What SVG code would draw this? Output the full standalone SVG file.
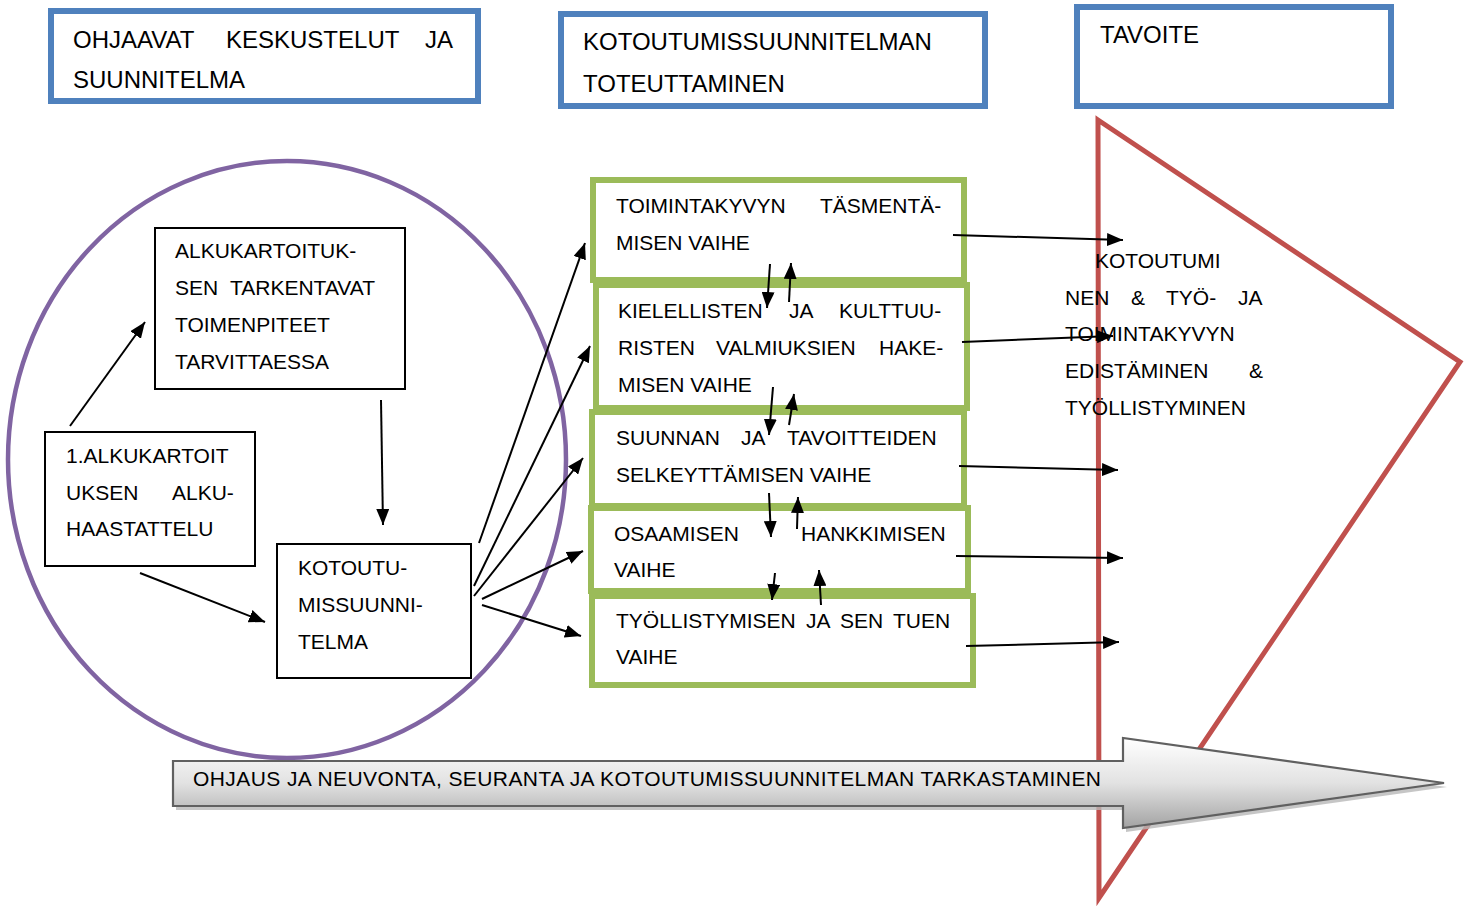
<svg xmlns="http://www.w3.org/2000/svg" width="1475" height="906" viewBox="0 0 1475 906">
  <style>
    text { font-family: "Liberation Sans", Arial, sans-serif; fill: #000; }
    .hdr { font-size: 24px; }
    .t { font-size: 21px; }
    .blue { fill: #fff; stroke: #4F81BD; stroke-width: 6; }
    .green { fill: #fff; stroke: #9BBB59; stroke-width: 6; }
    .plain { fill: #fff; stroke: #000; stroke-width: 2; }
    .con { fill: none; stroke: #000; stroke-width: 2; marker-end: url(#head); }
  </style>
  <defs>
    <marker id="head" markerUnits="userSpaceOnUse" markerWidth="16" markerHeight="13" refX="16" refY="6.5" orient="auto">
      <path d="M0,0 L16,6.5 L0,13 z" fill="#000"/>
    </marker>
    <linearGradient id="bandFill" x1="0" y1="0" x2="0" y2="1">
      <stop offset="0" stop-color="#ffffff"/>
      <stop offset="0.5" stop-color="#e2e2e2"/>
      <stop offset="1" stop-color="#a3a3a3"/>
    </linearGradient>
  </defs>

  <rect width="1475" height="906" fill="#fff"/>

  <!-- column headers -->
  <g id="hdr-ohjaavat">
    <rect class="blue" x="51" y="11" width="427" height="90"/>
    <text class="hdr" y="48"><tspan x="73">OHJAAVAT</tspan><tspan x="226">KESKUSTELUT</tspan><tspan x="425">JA</tspan></text>
    <text class="hdr" x="73" y="88">SUUNNITELMA</text>
  </g>
  <g id="hdr-toteuttaminen">
    <rect class="blue" x="561" y="14" width="424" height="92"/>
    <text class="hdr" x="583" y="49.5">KOTOUTUMISSUUNNITELMAN</text>
    <text class="hdr" x="583" y="91.5">TOTEUTTAMINEN</text>
  </g>
  <g id="hdr-tavoite">
    <rect class="blue" x="1077" y="7" width="314" height="99"/>
    <text class="hdr" x="1100" y="43">TAVOITE</text>
  </g>

  <!-- goal triangle -->
  <g id="goal">
    <polygon points="1098,120 1460,362 1099,898" fill="none" stroke="#C0504D" stroke-width="5" stroke-linejoin="miter"/>
    <text class="t" x="1095" y="268">KOTOUTUMI</text>
    <text class="t" y="305"><tspan x="1065">NEN</tspan><tspan x="1131">&amp;</tspan><tspan x="1166">TYÖ-</tspan><tspan x="1238">JA</tspan></text>
    <text class="t" x="1065" y="341">TOIMINTAKYVYN</text>
    <text class="t" y="378"><tspan x="1065">EDISTÄMINEN</tspan><tspan x="1249">&amp;</tspan></text>
    <text class="t" x="1065" y="415">TYÖLLISTYMINEN</text>
  </g>

  <!-- planning phase circle -->
  <g id="planning">
    <ellipse cx="287" cy="459.5" rx="279" ry="298.5" fill="none" stroke="#8064A2" stroke-width="4.5"/>
  </g>

  <g id="alkukartoitus-tarkentavat">
    <rect class="plain" x="155" y="228" width="250" height="161"/>
    <text class="t" x="175" y="258">ALKUKARTOITUK-</text>
    <text class="t" y="295"><tspan x="175">SEN</tspan><tspan x="230">TARKENTAVAT</tspan></text>
    <text class="t" x="175" y="332">TOIMENPITEET</text>
    <text class="t" x="175" y="369">TARVITTAESSA</text>
  </g>
  <g id="alkukartoitus">
    <rect class="plain" x="45" y="432" width="210" height="134"/>
    <text class="t" x="66" y="463">1.ALKUKARTOIT</text>
    <text class="t" y="500"><tspan x="66">UKSEN</tspan><tspan x="172">ALKU-</tspan></text>
    <text class="t" x="66" y="536">HAASTATTELU</text>
  </g>
  <g id="kotoutumissuunnitelma">
    <rect class="plain" x="277" y="544" width="194" height="134"/>
    <text class="t" x="298" y="575">KOTOUTU-</text>
    <text class="t" x="298" y="612">MISSUUNNI-</text>
    <text class="t" x="298" y="649">TELMA</text>
  </g>

  <!-- implementation phases -->
  <g id="vaihe-toimintakyky">
    <rect class="green" x="593" y="180" width="371" height="100"/>
    <text class="t" y="212.5"><tspan x="616">TOIMINTAKYVYN</tspan><tspan x="820">TÄSMENTÄ-</tspan></text>
    <text class="t" x="616" y="250">MISEN VAIHE</text>
  </g>
  <g id="vaihe-valmiudet">
    <rect class="green" x="596" y="285" width="371" height="123"/>
    <text class="t" y="318"><tspan x="618">KIELELLISTEN</tspan><tspan x="789">JA</tspan><tspan x="839">KULTTUU-</tspan></text>
    <text class="t" y="355"><tspan x="618">RISTEN</tspan><tspan x="716">VALMIUKSIEN</tspan><tspan x="879">HAKE-</tspan></text>
    <text class="t" x="618" y="392">MISEN VAIHE</text>
  </g>
  <g id="vaihe-suunta">
    <rect class="green" x="592" y="412" width="372" height="94"/>
    <text class="t" y="445"><tspan x="616">SUUNNAN</tspan><tspan x="741">JA</tspan><tspan x="787">TAVOITTEIDEN</tspan></text>
    <text class="t" x="616" y="482">SELKEYTTÄMISEN VAIHE</text>
  </g>
  <g id="vaihe-osaaminen">
    <rect class="green" x="591" y="508" width="377" height="83"/>
    <text class="t" y="541"><tspan x="614">OSAAMISEN</tspan><tspan x="801">HANKKIMISEN</tspan></text>
    <text class="t" x="614" y="577">VAIHE</text>
  </g>
  <g id="vaihe-tyollistyminen">
    <rect class="green" x="592" y="596" width="381" height="89"/>
    <text class="t" y="628"><tspan x="616">TYÖLLISTYMISEN</tspan><tspan x="806">JA</tspan><tspan x="840">SEN</tspan><tspan x="893">TUEN</tspan></text>
    <text class="t" x="616" y="664">VAIHE</text>
  </g>

  <!-- connectors -->
  <g id="connectors">
    <line class="con" x1="70" y1="426" x2="145" y2="322"/>
    <line class="con" x1="381" y1="400" x2="383" y2="525"/>
    <line class="con" x1="140" y1="573" x2="265" y2="622"/>

    <line class="con" x1="479" y1="543" x2="585" y2="243"/>
    <line class="con" x1="474" y1="586" x2="590" y2="346"/>
    <line class="con" x1="474" y1="596" x2="583" y2="458"/>
    <line class="con" x1="482" y1="599" x2="583" y2="551"/>
    <line class="con" x1="482" y1="605" x2="581" y2="636"/>

    <line class="con" x1="770" y1="264" x2="767" y2="308"/>
    <line class="con" x1="789" y1="302" x2="791" y2="263"/>
    <line class="con" x1="773" y1="387" x2="769" y2="435"/>
    <line class="con" x1="789" y1="425" x2="794" y2="394"/>
    <line class="con" x1="769" y1="493" x2="771" y2="537"/>
    <line class="con" x1="797" y1="529" x2="798" y2="497"/>
    <line class="con" x1="775" y1="573" x2="772" y2="600"/>
    <line class="con" x1="821" y1="605" x2="819" y2="570"/>

    <line class="con" x1="953" y1="235" x2="1123" y2="240"/>
    <line class="con" x1="962" y1="342" x2="1113" y2="336"/>
    <line class="con" x1="959" y1="466" x2="1118" y2="470"/>
    <line class="con" x1="956" y1="556" x2="1123" y2="558"/>
    <line class="con" x1="966" y1="646" x2="1119" y2="642"/>
  </g>

  <!-- guidance band arrow -->
  <g id="ohjaus">
    <polygon points="173,761 1123,761 1123,738 1444,783 1123,828 1123,806 173,806" fill="#b8b8b8" opacity="0.8" transform="translate(3,4)"/>
    <polygon points="173,761 1123,761 1123,738 1444,783 1123,828 1123,806 173,806" fill="url(#bandFill)" stroke="#606060" stroke-width="2.2" stroke-linejoin="miter"/>
    <text class="t" x="193" y="786" textLength="908" lengthAdjust="spacing">OHJAUS JA NEUVONTA, SEURANTA JA KOTOUTUMISSUUNNITELMAN TARKASTAMINEN</text>
  </g>
</svg>
